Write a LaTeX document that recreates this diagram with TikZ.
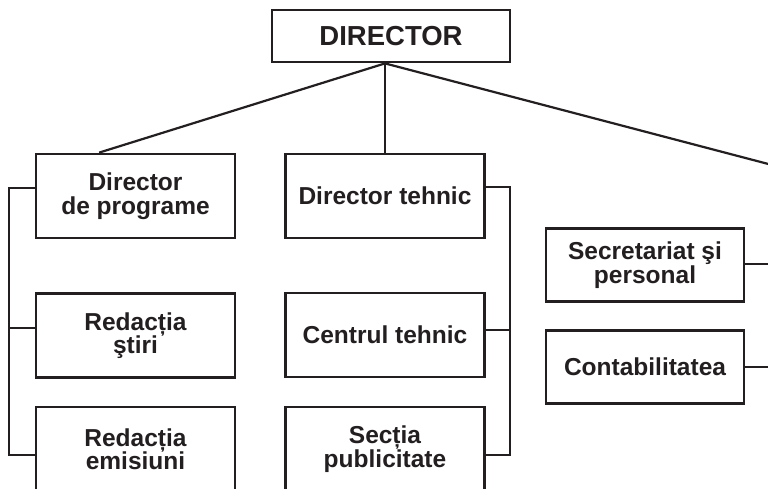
\documentclass[tikz,border=0pt]{standalone}
\usepackage{fontspec}
\setmainfont{Liberation Sans}
\usetikzlibrary{calc}
\definecolor{ink}{HTML}{231F20}
\begin{document}
\begin{tikzpicture}[x=1pt,y=-1pt,
  box/.style={draw=ink, line width=2.8pt, fill=white, text=ink, align=center,
    minimum width=199pt, minimum height=84pt, inner sep=0pt,
    font=\fontsize{24.5}{23.5}\selectfont\bfseries},
  smallbox/.style={box, minimum width=198pt, minimum height=73pt},
  topbox/.style={box, minimum width=238pt, minimum height=52pt,
    font=\fontsize{27.5}{27.5}\selectfont\bfseries},
  link/.style={draw=ink, line width=2.2pt}]
\useasboundingbox (0,0) rectangle (768,488);
\clip (0,0) rectangle (768,488);
\fill[white] (0,0) rectangle (768,488);

% nodes
\node[topbox] (dir) at (391,36) {DIRECTOR};
\node[box] (dp) at (135.5,196) {Director\\de programe};
\node[box] (rs) at (135.5,335.5) {Redacția\\ştiri};
\node[box] (re) at (135.5,449) {Redacția\\emisiuni};
\node[box] (dt) at (385,196) {Director tehnic};
\node[box] (ct) at (385,335) {Centrul tehnic};
\node[box] (sp) at (385,449) {Secția\\publicitate};
\node[smallbox] (sec) at (645,265) {Secretariat şi\\personal};
\node[smallbox] (con) at (645,367) {Contabilitatea};

% free ends beyond the right edge
\coordinate (rr) at (776,166);
\coordinate (se) at (776,264);
\coordinate (ce) at (776,367);
\coordinate (apex) at (dir.south -| dt.north);

% connectors from the director
\draw[link] (apex) -- ($(dp.north west)!0.32!(dp.north east)$);
\draw[link] (apex) -- (dt.north);
\draw[link] (apex) -- (rr);

% left bracket
\draw[link] ([yshift=8pt]dp.west) -- ++(-26,0) |- ([yshift=-6pt]re.west);
\draw[link] ([yshift=7.5pt]rs.west) -- ++(-26,0);

% middle bracket
\draw[link] ([yshift=9pt]dt.east) -- ++(24,0) |- ([yshift=-6pt]sp.east);
\draw[link] ([yshift=5pt]ct.east) -- ++(24,0);

% right column
\draw[link] ([yshift=1pt]sec.east) -- (se);
\draw[link] (con.east) -- (ce);
\end{tikzpicture}
\end{document}
